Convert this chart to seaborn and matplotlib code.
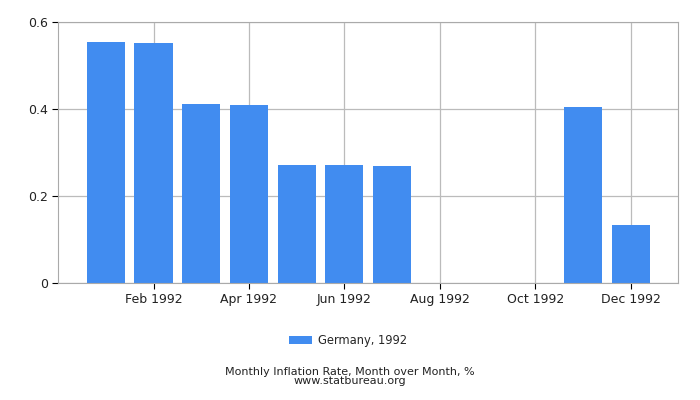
import matplotlib
matplotlib.use('Agg')
import matplotlib.pyplot as plt
import seaborn as sns
import pandas as pd

# ── data ─────────────────────────────────────────────────────────────────────
months = ['Jan', 'Feb', 'Mar', 'Apr', 'May', 'Jun',
          'Jul', 'Aug', 'Sep', 'Oct', 'Nov', 'Dec']
rates = [0.554, 0.552, 0.411, 0.409, 0.271, 0.271,
         0.269, 0.0, 0.0, 0.0, 0.405, 0.133]
tick_labels = ['Feb 1992', 'Apr 1992', 'Jun 1992',
               'Aug 1992', 'Oct 1992', 'Dec 1992']
y_ticks = [0, 0.2, 0.4, 0.6]
y_tick_labels = ['0', '0.2', '0.4', '0.6']

df = pd.DataFrame({'month': months, 'rate': rates})

sns.set_style('white')
plt.rcParams['font.family'] = ['DejaVu Sans']

fig = plt.figure(figsize=(7, 4), dpi=100)
ax = fig.add_axes([0.083, 0.2925, 0.886, 0.6525])

sns.barplot(data=df, x='month', y='rate', order=months, color='#418cf0',
            saturation=1, width=0.8, linewidth=0, label='Germany, 1992',
            ax=ax, zorder=2)

ax.set_xlim(-1, 12)
ax.set_ylim(0, 0.6)
ax.set_xticks([1, 3, 5, 7, 9, 11])
ax.set_xticklabels(tick_labels, fontsize=9)
ax.set_yticks(y_ticks)
ax.set_yticklabels(y_tick_labels, fontsize=9)
ax.set_xlabel('')
ax.set_ylabel('')
ax.grid(True, color='#bbbbbb', linewidth=0.9, zorder=0)
ax.set_axisbelow(True)
for s in ax.spines.values():
    s.set_color('#aaaaaa')
ax.tick_params(axis='both', length=4, color='#000000', direction='out',
               bottom=True, left=True, labelcolor='#222222')

ax.legend(loc='center', bbox_to_anchor=(0.468, -0.22), frameon=False,
          fontsize=8.3, handlelength=2.0, handleheight=0.8, handletextpad=0.5)

fig.text(0.5, 0.034, 'Monthly Inflation Rate, Month over Month, %\nwww.statbureau.org',
         ha='center', va='bottom', fontsize=8, linespacing=0.95,
         color='#222222')

fig.savefig('out.png', dpi=100)
